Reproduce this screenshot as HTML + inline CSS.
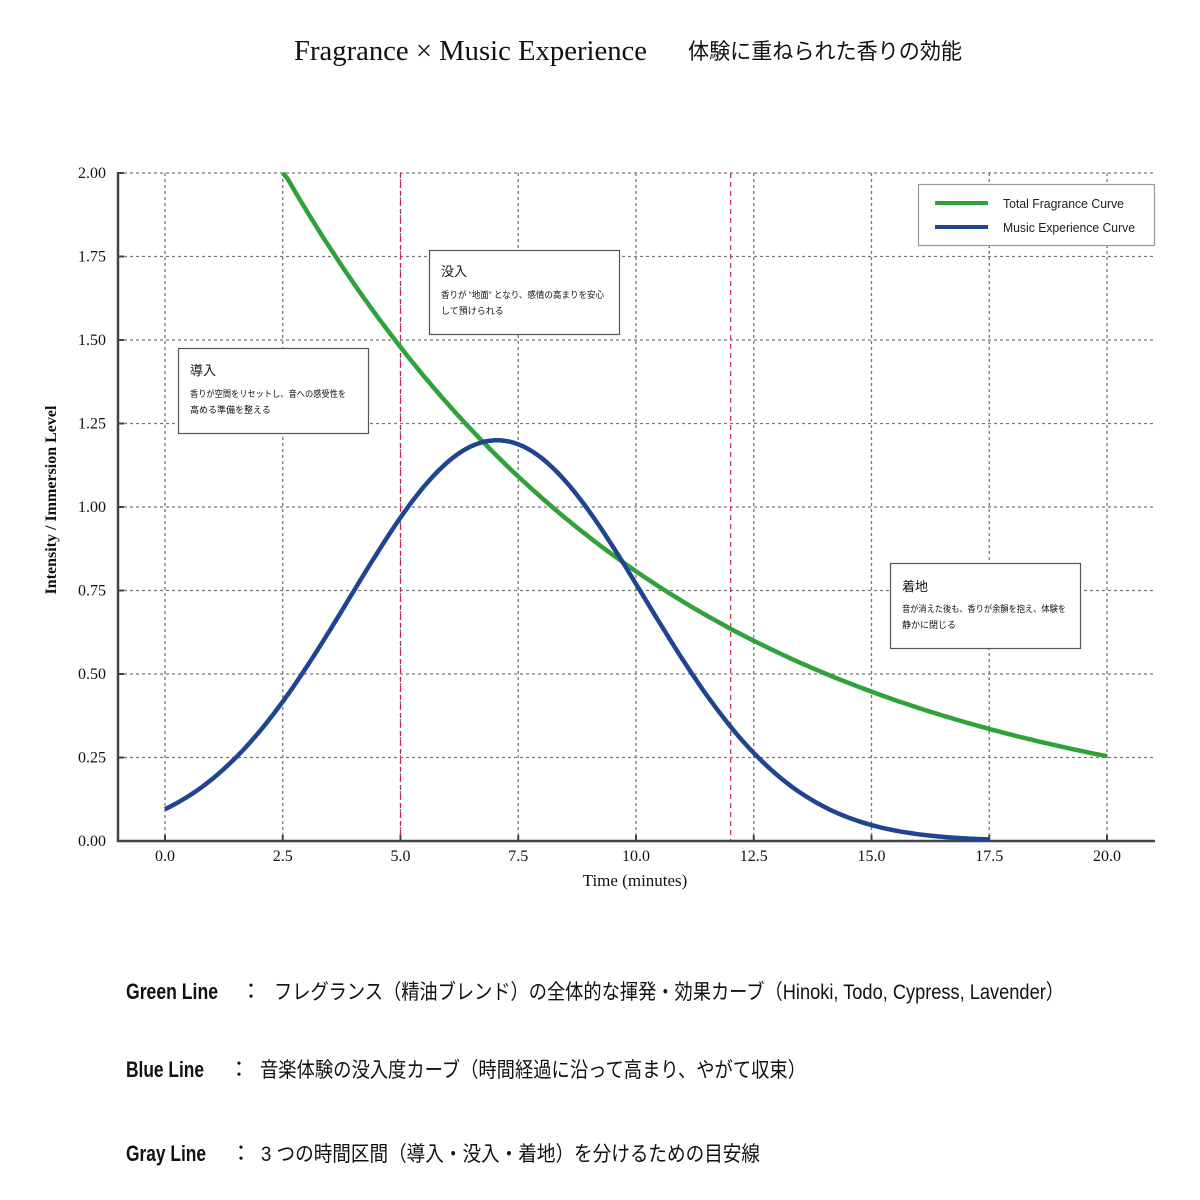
<!DOCTYPE html>
<html><head><meta charset="utf-8"><style>
html,body{margin:0;padding:0;background:#fff;width:1200px;height:1200px;overflow:hidden}
svg{display:block}
.serif{font-family:"Liberation Serif","Noto Serif CJK SC",serif}
.sans{font-family:"Liberation Sans","Noto Sans CJK JP",sans-serif}
</style></head><body>
<svg width="1200" height="1200" viewBox="0 0 1200 1200" xmlns="http://www.w3.org/2000/svg">
<rect width="1200" height="1200" fill="#fff"/>
<text class="serif" x="294" y="60" font-size="29" fill="#111" textLength="353" lengthAdjust="spacingAndGlyphs">Fragrance × Music Experience</text>
<text class="sans" x="688" y="59" font-size="22" fill="#111" textLength="274" lengthAdjust="spacingAndGlyphs">体験に重ねられた香りの効能</text>

<g id="grid" stroke="#777" stroke-width="1.3" stroke-dasharray="3,3" fill="none"></g>
<line x1="400.5" y1="173" x2="400.5" y2="841" stroke="#c8264a" stroke-width="1.2" stroke-dasharray="5,4"/>
<line x1="730.7" y1="173" x2="730.7" y2="841" stroke="#c8264a" stroke-width="1.2" stroke-dasharray="5,4"/>
<line x1="118" y1="172" x2="118" y2="842" stroke="#444" stroke-width="2.5"/>
<line x1="117" y1="841" x2="1155" y2="841" stroke="#444" stroke-width="2.5"/>
<g id="ticks" stroke="#444" stroke-width="2"></g>
<g id="labels" class="serif" font-size="16" fill="#111"></g>

<path id="green" fill="none" stroke="#2fa23a" stroke-width="4.5"/>
<path id="blue" fill="none" stroke="#1f4591" stroke-width="4.5"/>

<text class="serif" x="635" y="886" font-size="17" fill="#111" text-anchor="middle">Time (minutes)</text>
<text class="serif" font-size="16" fill="#111" text-anchor="middle" transform="translate(56,500) rotate(-90)" font-weight="bold">Intensity / Immersion Level</text>

<g class="sans" fill="#111">
<rect x="178.5" y="348.5" width="190" height="85" fill="#fff" stroke="#555" stroke-width="1.2"/>
<text x="190" y="375" font-size="13">導入</text>
<text x="190" y="397" font-size="9" textLength="156" lengthAdjust="spacingAndGlyphs">香りが空間をリセットし、音への感受性を</text>
<text x="190" y="413" font-size="9">高める準備を整える</text>
<rect x="429.5" y="250.5" width="190" height="84" fill="#fff" stroke="#555" stroke-width="1.2"/>
<text x="441" y="276" font-size="13">没入</text>
<text x="441" y="298" font-size="9" textLength="163" lengthAdjust="spacingAndGlyphs">香りが “地面” となり、感情の高まりを安心</text>
<text x="441" y="314" font-size="9">して預けられる</text>
<rect x="890.5" y="563.5" width="190" height="85" fill="#fff" stroke="#555" stroke-width="1.2"/>
<text x="902" y="591" font-size="13">着地</text>
<text x="902" y="612" font-size="9" textLength="164" lengthAdjust="spacingAndGlyphs">音が消えた後も、香りが余韻を抱え、体験を</text>
<text x="902" y="628" font-size="9">静かに閉じる</text>
</g>
<rect x="918.5" y="184.5" width="236" height="61" fill="#fff" stroke="#999" stroke-width="1.2"/>
<line x1="935" y1="203" x2="988" y2="203" stroke="#2fa23a" stroke-width="4"/>
<line x1="935" y1="227" x2="988" y2="227" stroke="#1f4591" stroke-width="4"/>
<text class="sans" x="1003" y="208" font-size="13" fill="#222" textLength="121" lengthAdjust="spacingAndGlyphs">Total Fragrance Curve</text>
<text class="sans" x="1003" y="232" font-size="13" fill="#222" textLength="132" lengthAdjust="spacingAndGlyphs">Music Experience Curve</text>

<g class="sans" fill="#111">
<text x="126" y="999" font-size="22" font-weight="bold" textLength="92" lengthAdjust="spacingAndGlyphs">Green Line</text>
<text x="240" y="999" font-size="22">：</text>
<text x="274" y="999" font-size="21" textLength="790" lengthAdjust="spacingAndGlyphs">フレグランス（精油ブレンド）の全体的な揮発・効果カーブ（Hinoki, Todo, Cypress, Lavender）</text>
<text x="126" y="1077" font-size="22" font-weight="bold" textLength="78" lengthAdjust="spacingAndGlyphs">Blue Line</text>
<text x="228" y="1077" font-size="22">：</text>
<text x="260" y="1077" font-size="21" textLength="546" lengthAdjust="spacingAndGlyphs">音楽体験の没入度カーブ（時間経過に沿って高まり、やがて収束）</text>
<text x="126" y="1161" font-size="22" font-weight="bold" textLength="80" lengthAdjust="spacingAndGlyphs">Gray Line</text>
<text x="230" y="1161" font-size="22">：</text>
<text x="261" y="1161" font-size="21" textLength="499" lengthAdjust="spacingAndGlyphs">3 つの時間区間（導入・没入・着地）を分けるための目安線</text>
</g>
</svg>
<script>
var NS="http://www.w3.org/2000/svg";
function X(v){return 165+47.1*v}
function Y(v){return 841-334*v}
function el(p,t,a,txt){var e=document.createElementNS(NS,t);for(var k in a)e.setAttribute(k,a[k]);if(txt!=null)e.textContent=txt;p.appendChild(e);return e}
var grid=document.getElementById('grid'),ticks=document.getElementById('ticks'),labels=document.getElementById('labels');
for(var i=0;i<=8;i++){var v=i*2.5,x=X(v);
 el(grid,'line',{x1:x,y1:173,x2:x,y2:841});
 el(ticks,'line',{x1:x,y1:841,x2:x,y2:835});
 el(labels,'text',{x:x,y:861,'text-anchor':'middle'},v.toFixed(1));}
for(var j=0;j<=8;j++){var v=j*0.25,y=Y(v);
 el(grid,'line',{x1:118,y1:y,x2:1155,y2:y});
 el(ticks,'line',{x1:118,y1:y,x2:124,y2:y});
 el(labels,'text',{x:106,y:y+5,'text-anchor':'end'},v.toFixed(2));}
var d='';
for(var t=2.5;t<=20.001;t+=0.1){var g=2.70*Math.exp(-0.1245*t)+0.03;if(g>2)g=2;d+=(d?'L':'M')+X(t).toFixed(1)+','+Y(g).toFixed(1)}
document.getElementById('green').setAttribute('d',d);
d='';
for(var t=0;t<=17.501;t+=0.1){var b=1.2*Math.exp(-Math.pow(t-7.05,2)/(2*9.8));d+=(d?'L':'M')+X(t).toFixed(1)+','+Y(b).toFixed(1)}
document.getElementById('blue').setAttribute('d',d);
</script>
</body></html>
